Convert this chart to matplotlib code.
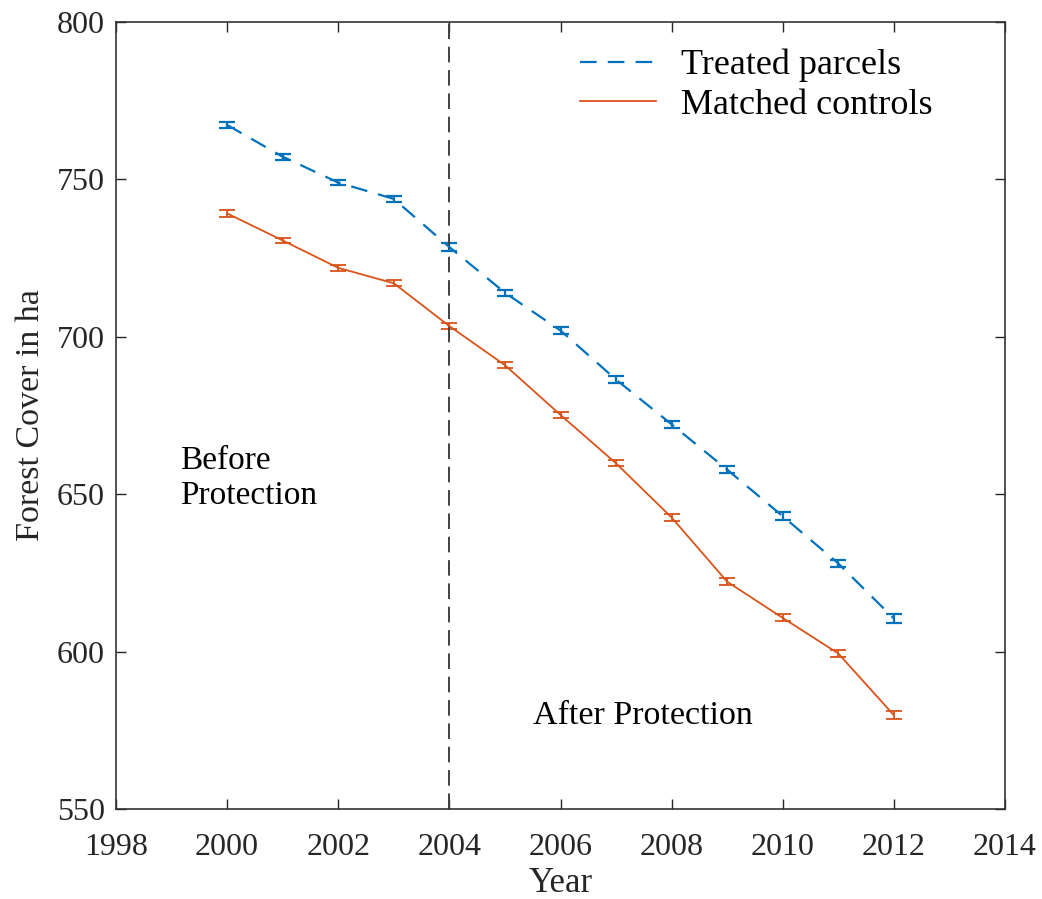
import matplotlib
matplotlib.use("Agg")
import matplotlib.pyplot as plt
from matplotlib.lines import Line2D

years = [2000, 2001, 2002, 2003, 2004, 2005, 2006, 2007, 2008, 2009, 2010, 2011, 2012]
treated = [767.3, 757.2, 749.0, 743.8, 728.5, 714.0, 702.0, 686.4, 672.2, 657.8, 643.0, 628.0, 610.5]
treated_err = [1.0, 0.9, 0.9, 0.9, 1.4, 1.0, 1.0, 1.0, 1.1, 1.1, 1.2, 1.2, 1.4]
controls = [739.2, 730.6, 721.9, 717.0, 703.4, 691.0, 675.2, 659.8, 642.6, 622.2, 610.7, 599.4, 579.8]
controls_err = [1.0, 0.9, 0.9, 0.9, 1.0, 1.0, 1.0, 1.0, 1.1, 1.1, 1.1, 1.2, 1.3]
labels = ['Treated parcels', 'Matched controls']

plt.rcParams['font.family'] = ['Liberation Serif', 'DejaVu Serif']

fig = plt.figure(figsize=(10.42, 8.99), dpi=100)
ax = fig.add_axes([116/1042, 1 - 809/899, (1005-116)/1042, (809-22)/899])

blue = '#0072BD'
orange = '#D95319'
tdash = (0, (7.5, 5))

ax.errorbar(years, treated, yerr=treated_err, color=blue, linestyle=tdash, lw=1.6,
            capsize=6, capthick=1.6, elinewidth=1.6)
ax.errorbar(years, controls, yerr=controls_err, color=orange, linestyle='-', lw=1.3,
            capsize=6, capthick=1.3, elinewidth=1.3)
ax.axvline(2004, color='#404040', linestyle=(0, (8, 4)), lw=1.4)

ax.set_xlim(1998, 2014)
ax.set_ylim(550, 800)
ax.set_xticks(range(1998, 2015, 2))
ax.set_yticks(range(550, 801, 50))
ax.tick_params(direction='in', length=7, width=1, top=True, right=True, labelsize=23,
               colors='#262626')
ax.tick_params(axis='y', pad=8)
ax.tick_params(axis='x', pad=17)
for s in ax.spines.values():
    s.set_color('#333333')
    s.set_linewidth(1.2)
ax.set_xlabel('Year', fontsize=25, color='#262626', labelpad=4)
ax.set_ylabel('Forest Cover in ha', fontsize=24.5, color='#262626', labelpad=8)

ax.text(1999.15, 655, 'Before\nProtection', fontsize=24, va='center', ha='left',
        linespacing=1.2)
ax.text(2005.5, 579.5, 'After Protection', fontsize=24.5, va='center', ha='left')

handles = [Line2D([], [], color=blue, linestyle=tdash, lw=1.6),
           Line2D([], [], color=orange, linestyle='-', lw=1.3)]
ax.legend(handles, labels, loc='upper left', frameon=False, fontsize=26,
          bbox_to_anchor=(0.522, 0.966), borderpad=0, borderaxespad=0,
          handlelength=2.1, handletextpad=0.7, labelspacing=0.18)

fig.savefig('out.png', dpi=100)
